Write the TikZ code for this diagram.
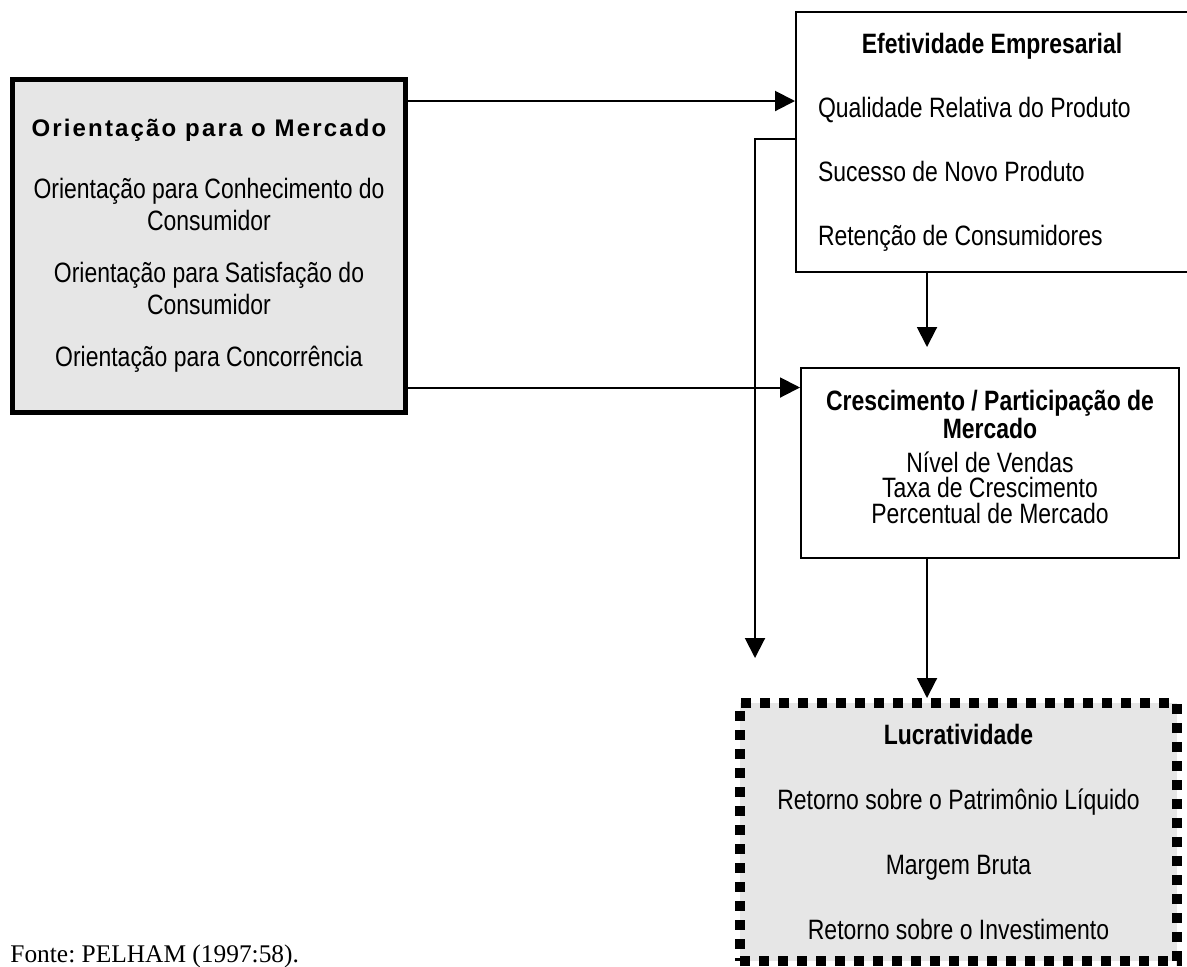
\documentclass[tikz,border=0pt]{standalone}
\usepackage{fontspec}
\setmainfont{Liberation Sans}[FakeStretch=0.82]
\newfontfamily\spacedfont{Liberation Sans}[LetterSpace=9]
\newfontfamily\fontefont{Liberation Serif}
\usetikzlibrary{arrows.meta,positioning}
\definecolor{BoxGray}{RGB}{230,230,230}
\frenchspacing

\begin{document}
\begin{tikzpicture}[x=0.5pt,y=-0.5pt,
mybox/.style={draw,line width=1pt,inner sep=0pt,font=\fontsize{14}{16}\selectfont},
mydots/.style={draw,line width=5pt,dash pattern=on 5pt off 4.5pt,fill=BoxGray},
arr/.style={-{Triangle[length=10pt,width=10pt]},line width=1pt}]
\useasboundingbox (0,0) rectangle (1187,966);
\node[mybox,line width=2.5pt,fill=BoxGray,minimum width=196.5pt,minimum height=166.5pt,align=center] (mkt) at (209,246)
  {{\spacedfont\bfseries\fontsize{12}{16}\selectfont Orientação para o Mercado}\\[15pt]
   Orientação para Conhecimento do\\Consumidor\\[10pt]
   Orientação para Satisfação do\\Consumidor\\[10pt]
   Orientação para Concorrência};
\node[mybox,minimum width=196pt,minimum height=130pt,align=left] (efet) at (992,142)
  {\makebox[174pt]{\bfseries Efetividade Empresarial}\\[16pt]
   Qualidade Relativa do Produto\\[16pt]
   Sucesso de Novo Produto\\[16pt]
   Retenção de Consumidores};
\node[mybox,minimum width=189pt,minimum height=95pt,align=center,font=\fontsize{14}{12.75}\selectfont] (cresc) at (990,463)
  {\textbf{Crescimento / Participação de}\\\textbf{Mercado}\\[4pt]
   Nível de Vendas\\Taxa de Crescimento\\Percentual de Mercado\rule[-6pt]{0pt}{0pt}};
\node[mybox,mydots,minimum width=218.5pt,minimum height=129pt,align=center] (lucro) at (958.5,832)
  {\textbf{Lucratividade}\\[16.5pt]
   Retorno sobre o Patrimônio Líquido\\[16.5pt]
   Margem Bruta\\[16.5pt]
   Retorno sobre o Investimento};
\node[anchor=base west,inner sep=0pt,font=\fontefont\fontsize{12.7}{14}\selectfont] (fonte) at (10,962) {Fonte: PELHAM (1997:58).};
% ligacoes
\coordinate (t1) at ([yshift=-12pt]mkt.north east);
\coordinate (b1) at ([yshift=13.75pt]mkt.south east);
\coordinate (s1) at ([yshift=-64pt]efet.north west);
\coordinate (l1) at ([xshift=10pt,yshift=20pt]lucro.north west);
\coordinate (c1) at ([xshift=-31.5pt,yshift=10pt]cresc.north);
\coordinate (c2) at ([xshift=-31.5pt]cresc.south);
\draw[arr] (t1) -- (t1 -| efet.west);
\draw[arr] (b1) -- (b1 -| cresc.west);
\draw[arr] (s1) -| (l1);
\draw[arr] (c1 |- efet.south) -- (c1);
\draw[arr] (c2) -- (c2 |- lucro.north);
\end{tikzpicture}
\end{document}
